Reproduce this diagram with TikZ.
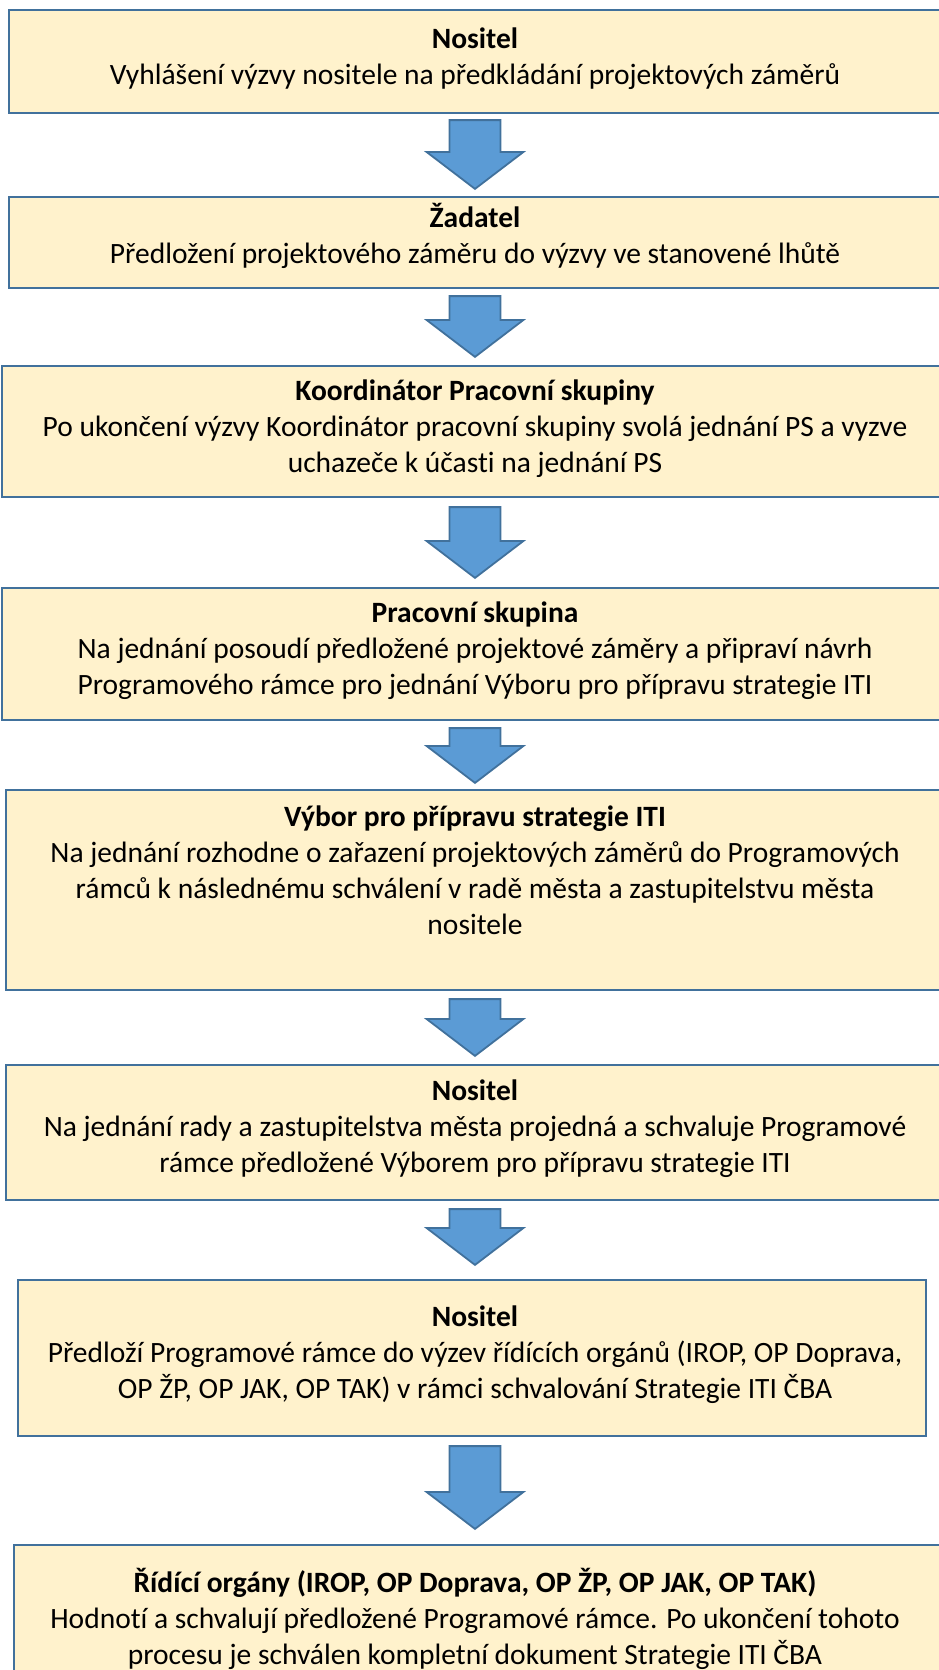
\documentclass[tikz,border=0pt]{standalone}
\usepackage{fontspec}
\setmainfont[Ligatures={NoCommon}]{Carlito}
\usetikzlibrary{calc}
\definecolor{boxfill}{HTML}{FFF2CC}
\definecolor{boxline}{HTML}{41719C}
\definecolor{arrfill}{HTML}{5B9BD5}
\begin{document}
\begin{tikzpicture}[x=1pt,y=-1pt,
  box/.style={draw=boxline,line width=2.2pt,fill=boxfill,inner sep=0pt},
  boxtext/.style={align=center,inner sep=0pt,font=\fontsize{29.5}{36}\selectfont},
  barrow/.style={draw=boxline,line width=1.8pt,fill=arrfill,line join=miter}]
\useasboundingbox (0,0) rectangle (939,1670);
\coordinate (ax) at (475,0);
\newcommand{\bx}[7]{% name, left, right, top, bottom, text y shift, text
  \node[box,minimum width={#3-#2},minimum height={#5-#4}] (#1) at ({(#2+#3)/2},{(#4+#5)/2}) {};
  \node[boxtext] (#1-txt) at ($(#1.center)+(475-#2/2-#3/2,#6)$) {#7};}
\newcommand{\ba}[4]{% from, to, gap top, gap bottom
  \path (#1.south) ++(0,#3) coordinate (#1-at);
  \path (#2.north) ++(0,-#4) coordinate (#1-ap);
  \draw[barrow] (ax |- #1-at) ++(-25.5,0) -- ++(51,0) -- ($(ax |- #1-ap)+(25.5,-37)$) -- ++(23,0) -- (ax |- #1-ap) -- ++(-48.5,-37) -- ++(23,0) -- cycle;}
\bx{b1}{9}{955}{10}{113}{-3}{\textbf{Nositel}\\Vyhlášení výzvy nositele na předkládání projektových záměrů}
\bx{b2}{9}{955}{197}{288}{-7}{\textbf{Žadatel}\\Předložení projektového záměru do výzvy ve stanovené lhůtě}
\bx{b3}{2}{955}{366}{497}{-3}{\textbf{Koordinátor Pracovní skupiny}\\Po ukončení výzvy Koordinátor pracovní skupiny svolá jednání PS a vyzve\\uchazeče k účasti na jednání PS}
\bx{b4}{2}{955}{588}{720}{-3}{\textbf{Pracovní skupina}\\Na jednání posoudí předložené projektové záměry a připraví návrh\\Programového rámce pro jednání Výboru pro přípravu strategie ITI}
\bx{b5}{6}{955}{790}{990}{-20}{\textbf{Výbor pro přípravu strategie ITI}\\Na jednání rozhodne o zařazení projektových záměrů do Programových\\rámců k následnému schválení v radě města a zastupitelstvu města\\nositele}
\bx{b6}{6}{955}{1065}{1200}{-4}{\textbf{Nositel}\\Na jednání rady a zastupitelstva města projedná a schvaluje Programové\\rámce předložené Výborem pro přípravu strategie ITI}
\bx{b7}{18}{926}{1280}{1436}{-3}{\textbf{Nositel}\\Předloží Programové rámce do výzev řídících orgánů (IROP, OP Doprava,\\OP ŽP, OP JAK, OP TAK) v rámci schvalování Strategie ITI ČBA}
\bx{b8}{14}{955}{1545}{1700}{-4}{\textbf{Řídící orgány (IROP, OP Doprava, OP ŽP, OP JAK, OP TAK)}\\Hodnotí a schvalují předložené Programové rámce. Po ukončení tohoto\\procesu je schválen kompletní dokument Strategie ITI ČBA}
\ba{b1}{b2}{6}{7}
\ba{b2}{b3}{7}{8}
\ba{b3}{b4}{9}{9}
\ba{b4}{b5}{7}{6}
\ba{b5}{b6}{8}{8}
\ba{b6}{b7}{8}{14}
\ba{b7}{b8}{9}{15}
\end{tikzpicture}
\end{document}
